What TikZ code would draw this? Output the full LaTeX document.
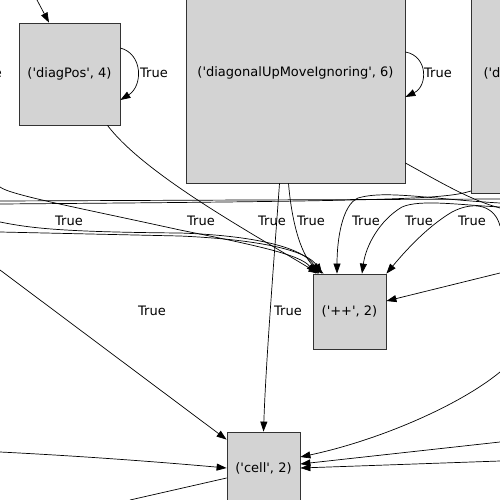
\documentclass[tikz,border=0pt]{standalone}
\usepackage{fontspec}
\setmainfont{DejaVu Sans}[Ligatures=TeXOff]
\usetikzlibrary{arrows.meta}
\definecolor{boxgray}{HTML}{D3D3D3}
\begin{document}
\begin{tikzpicture}[x=1pt, y=-1pt, font=\fontsize{13}{15}\selectfont,
    box/.style={draw=black!80, fill=boxgray, line width=0.8pt, inner sep=0pt},
    edge/.style={line width=0.7pt, -{Triangle[length=10pt,width=7pt]}},
    plain/.style={line width=0.7pt},
    lbl/.style={inner sep=1pt}]
    \useasboundingbox (0,0) rectangle (500,500);
    \clip (0,0) rectangle (500,500);

    \node[box, minimum width=101, minimum height=102] (diagPos) at (69.5,74) {('diagPos', 4)};
    \node[box, minimum width=219, minimum height=220] (diagUp) at (295.5,73) {('diagonalUpMoveIgnoring', 6)};
    \node[box, minimum width=220, minimum height=240, anchor=south west] (diagR) at (471,194) {};
    \node[anchor=west] (diagRtxt) at (480,73) {('di};
    \node[box, minimum width=73, minimum height=75] (pp) at (349.5,311.5) {('++', 2)};
    \node[box, minimum width=73, minimum height=72] (cell) at (263.5,468) {('cell', 2)};

    \foreach \x/\y [count=\i] in {154/73, 438/73, 69/221, 201/221, 272/221, 311/221,
        366/221, 419/221, 472/221, 152/311, 288/311}
        \node[lbl] (t\i) at (\x,\y) {True};
    \node[lbl, anchor=east] (t0) at (3,73) {True};

    \coordinate (inTop) at (37,0);
    \coordinate (l1) at (0,187);
    \coordinate (l2) at (0,204);
    \coordinate (l3) at (0,201);
    \coordinate (l4) at (0,222);
    \coordinate (l5) at (0,232);
    \coordinate (l6) at (0,270);
    \coordinate (l7) at (0,452);
    \coordinate (b1) at (130,500);
    \coordinate (r1) at (500,208);
    \coordinate (r2) at (500,199);
    \coordinate (r3) at (500,203);
    \coordinate (r4) at (500,207);
    \coordinate (r5) at (500,226);
    \coordinate (r6) at (500,273);
    \coordinate (r7) at (500,372);
    \coordinate (r8) at (500,442);
    \coordinate (r9) at (500,461);

    \draw[edge] (inTop) -- ([xshift=-20.5]diagPos.north);
    \draw[edge] ([yshift=26]diagPos.east) .. controls (143,54) and (143,86) .. ([yshift=-26]diagPos.east);
    \draw[edge] ([yshift=21]diagUp.east) .. controls (428,56) and (428,86) .. ([yshift=-24]diagUp.east);

    \draw[edge] ([xshift=38]diagPos.south) .. controls (145,175) and (255,235) .. ([xshift=-31]pp.north);
    \draw[edge] ([xshift=-16]diagUp.south) .. controls (274,260) and (266,360) .. (cell.north);
    \draw[edge] ([xshift=-7]diagUp.south) .. controls (292,225) and (302,258) .. ([xshift=-26]pp.north);
    \draw[plain] ([yshift=-90]diagUp.east) .. controls (440,182) and (470,200) .. (r1);
    \draw[plain] ([yshift=3]diagR.south west) .. controls (445,199) and (400,201) .. (l2);
    \draw[plain] (l3) -- (r2);

    \draw[edge] (r3) .. controls (430,199) and (385,190) .. (358,198) .. controls (342,205) and (337,240) .. ([xshift=-12.5]pp.north);
    \draw[edge] (r4) .. controls (460,205) and (420,199) .. (402,207) .. controls (380,220) and (366,245) .. ([xshift=12.5]pp.north);
    \draw[edge] (r5) .. controls (495,206) and (475,200) .. (452,212) .. controls (425,228) and (402,255) .. (pp.north east);
    \draw[edge] (r6) -- ([yshift=10.5]pp.east);

    \draw[edge] (l1) .. controls (10,195) and (80,208) .. (180,230) .. controls (260,246) and (300,255) .. ([xshift=-33.5]pp.north);
    \draw[edge] (l4) .. controls (30,228) and (60,232) .. (180,233) .. controls (265,236) and (305,250) .. ([xshift=-30.5]pp.north);
    \draw[edge] (l5) -- (180,236) .. controls (268,240) and (308,252) .. ([xshift=-27.5]pp.north);

    \draw[edge] (l6) -- ([yshift=-8]cell.north west);
    \draw[edge] (l7) .. controls (80,456) and (160,462) .. (cell.west);
    \draw[plain] ([yshift=-10]cell.west) -- (b1);
    \draw[edge] (r7) .. controls (460,405) and (380,440) .. ([yshift=11]cell.east);
    \draw[edge] (r8) -- ([yshift=4]cell.east);
    \draw[edge] (r9) -- (cell.east);

    \end{tikzpicture}
\end{document}
